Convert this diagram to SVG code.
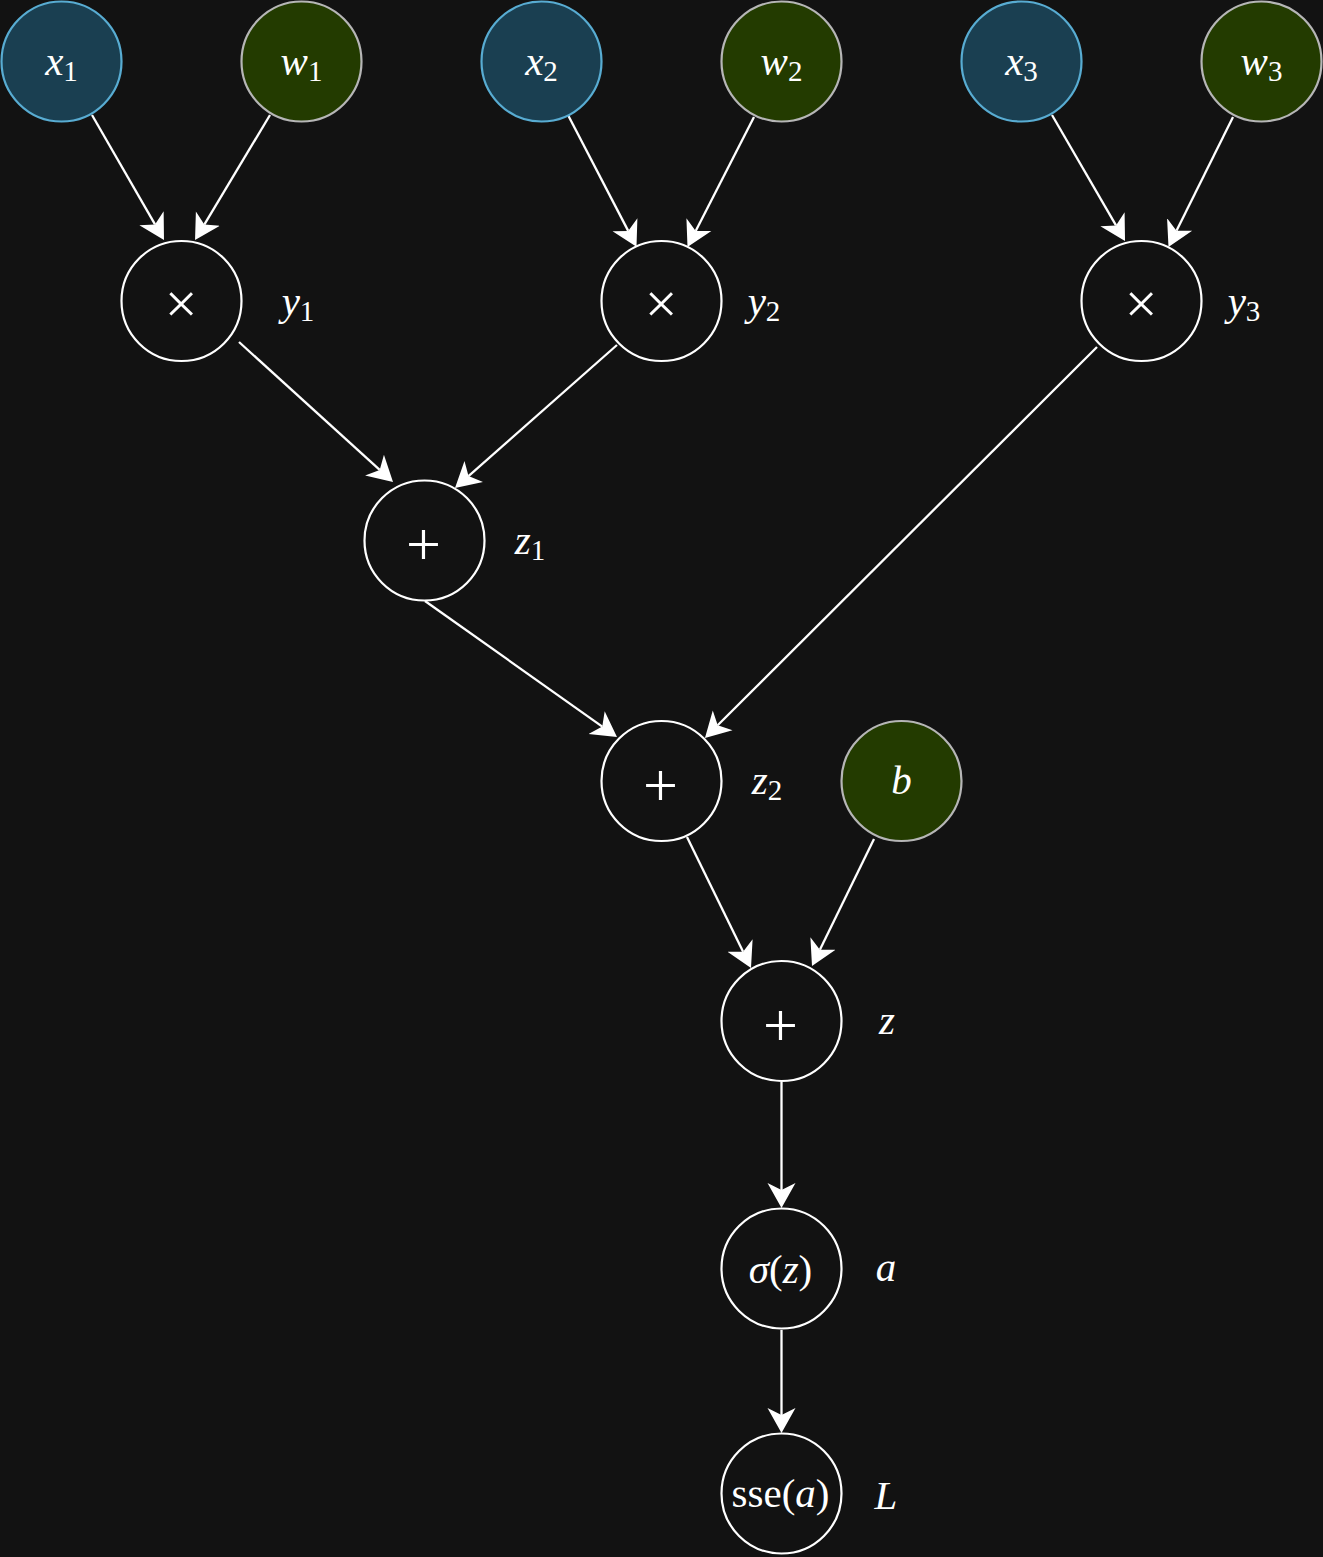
<svg xmlns="http://www.w3.org/2000/svg" width="1323" height="1557" viewBox="0 0 1323 1557">
<defs>
<style>
.bg{fill:#121212}
.op{fill:#121212;stroke:#ffffff;stroke-width:2.2}
.in{fill:#1a3f51;stroke:#58acd2;stroke-width:2.2}
.wt{fill:#233b00;stroke:#b6b6b6;stroke-width:2.2}
.v{font-style:italic;font-size:41px;fill:#ffffff;text-anchor:middle}
.s{font-style:normal;font-size:29px}
.u{font-style:normal}
.sym{fill:#ffffff;text-anchor:middle}
.e{stroke:#ffffff;stroke-width:2.3;fill:none;marker-end:url(#ah)}
</style>
<marker id="ah" markerUnits="userSpaceOnUse" markerWidth="26" markerHeight="30" viewBox="0 -14 26 28" refX="7" refY="0" orient="auto">
<path d="M25,0 L0,-14 L7,0 L0,14 Z" fill="#ffffff"/>
</marker>
</defs>
<rect class="bg" x="0" y="0" width="1323" height="1557"/>
<g id="connectors">
<line class="e" x1="92" y1="115" x2="155" y2="224.4"/>
<line class="e" x1="270" y1="115" x2="204.3" y2="224.6"/>
<line class="e" x1="568" y1="115" x2="628.2" y2="230.9"/>
<line class="e" x1="754" y1="117" x2="695.7" y2="230.9"/>
<line class="e" x1="1052" y1="115" x2="1116" y2="225.4"/>
<line class="e" x1="1233" y1="117" x2="1176.5" y2="230.8"/>
<line class="e" x1="239" y1="342" x2="379.7" y2="469.9"/>
<line class="e" x1="617" y1="345" x2="468.5" y2="476.1"/>
<line class="e" x1="1097" y1="347" x2="717.7" y2="725.3"/>
<line class="e" x1="425" y1="601" x2="602.3" y2="726.6"/>
<line class="e" x1="687" y1="837" x2="743.1" y2="951.8"/>
<line class="e" x1="874" y1="839" x2="819.9" y2="949.8"/>
<line class="e" x1="781.5" y1="1082" x2="781.5" y2="1190"/>
<line class="e" x1="781.5" y1="1330" x2="781.5" y2="1415"/>
</g>
<g font-family="Liberation Serif, Times New Roman, Times, serif">
<g id="x1"><circle class="in" cx="61.5" cy="61.5" r="60"/><text class="v" x="61.5" y="74.5">x<tspan class="s" dy="6">1</tspan></text></g>
<g id="w1"><circle class="wt" cx="301.5" cy="61.5" r="60"/><text class="v" x="301.5" y="74.5">w<tspan class="s" dy="6">1</tspan></text></g>
<g id="x2"><circle class="in" cx="541.5" cy="61.5" r="60"/><text class="v" x="541.5" y="74.5">x<tspan class="s" dy="6">2</tspan></text></g>
<g id="w2"><circle class="wt" cx="781.5" cy="61.5" r="60"/><text class="v" x="781.5" y="74.5">w<tspan class="s" dy="6">2</tspan></text></g>
<g id="x3"><circle class="in" cx="1021.5" cy="61.5" r="60"/><text class="v" x="1021.5" y="74.5">x<tspan class="s" dy="6">3</tspan></text></g>
<g id="w3"><circle class="wt" cx="1261.5" cy="61.5" r="60"/><text class="v" x="1261.5" y="74.5">w<tspan class="s" dy="6">3</tspan></text></g>
<g id="m1"><circle class="op" cx="181.5" cy="301" r="60"/><text class="sym" x="181" y="322.5" font-size="58">×</text><text class="v" x="298" y="315">y<tspan class="s" dy="6">1</tspan></text></g>
<g id="m2"><circle class="op" cx="661.5" cy="301" r="60"/><text class="sym" x="661" y="322.5" font-size="58">×</text><text class="v" x="764" y="315">y<tspan class="s" dy="6">2</tspan></text></g>
<g id="m3"><circle class="op" cx="1141.5" cy="301" r="60"/><text class="sym" x="1141" y="322.5" font-size="58">×</text><text class="v" x="1244" y="315">y<tspan class="s" dy="6">3</tspan></text></g>
<g id="p1"><circle class="op" cx="424.5" cy="540.5" r="60"/><text class="sym" x="423.5" y="565" font-size="62">+</text><text class="v" x="530" y="554">z<tspan class="s" dy="6">1</tspan></text></g>
<g id="p2"><circle class="op" cx="661.5" cy="781" r="60"/><text class="sym" x="660.5" y="805.5" font-size="62">+</text><text class="v" x="767" y="794">z<tspan class="s" dy="6">2</tspan></text></g>
<g id="b"><circle class="wt" cx="901.5" cy="781" r="60"/><text class="v" x="901.5" y="794">b</text></g>
<g id="p3"><circle class="op" cx="781.5" cy="1021" r="60"/><text class="sym" x="780.5" y="1045.5" font-size="62">+</text><text class="v" x="887" y="1034">z</text></g>
<g id="sigma"><circle class="op" cx="781.5" cy="1268.5" r="60"/><text class="v" x="780.5" y="1283" font-size="44">σ<tspan class="u">(</tspan>z<tspan class="u">)</tspan></text><text class="v" x="886" y="1281">a</text></g>
<g id="sse"><circle class="op" cx="781.5" cy="1493.5" r="60"/><text class="v" x="780.5" y="1507" font-size="33"><tspan class="u">sse(</tspan>a<tspan class="u">)</tspan></text><text class="v" x="886" y="1509">L</text></g>
</g>
</svg>
